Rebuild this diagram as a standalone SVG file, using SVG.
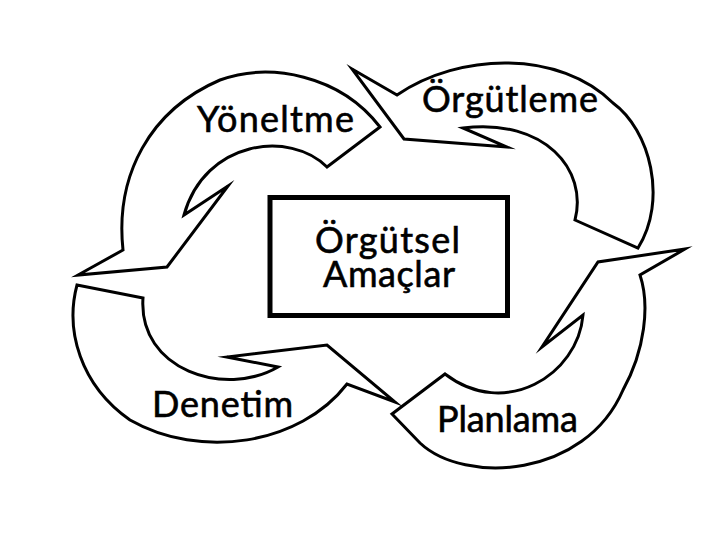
<svg xmlns="http://www.w3.org/2000/svg" width="720" height="540" viewBox="0 0 720 540">
<style>
.arrow{fill:#fff;stroke:#000;stroke-width:3;stroke-linejoin:miter;stroke-miterlimit:10}
.lbl{font-family:"Lato","Liberation Sans",sans-serif;font-size:36px;fill:#000;stroke:#000;stroke-width:0.6}
</style>
<rect width="720" height="540" fill="#fff"/>
<g id="connectors">
<path id="yoneltme-arrow" class="arrow" d="M380,127 L327,167 C290,130 205,140 184,215 L228,186 L167,267 L78,275 L123,250 C115,175 150,110 220,80 C270,62 340,75 380,127 Z"/>
<path id="orgutleme-arrow" class="arrow" d="M352,69 L397,95 C460,52 560,50 613,103 C650,130 668,200 638,248 L575,220 C588,170 545,118 463,128 L507,147 L404,139 Z"/>
<path id="planlama-arrow" class="arrow" d="M685,249 L598,262 L542,347 L583,315 C578,375 505,420 445,374 L392,414 L420,443 C465,485 585,478 623,390 C645,350 650,305 640,275 Z"/>
<path id="denetim-arrow" class="arrow" d="M77,285 L143,298 C138,370 225,398 278,367 L227,357 L327,345 L395,402 L347,384 C300,445 200,460 130,420 C80,385 65,330 77,285 Z"/>
</g>
<g id="yoneltme"><text class="lbl" x="197" y="132" textLength="157">Yöneltme</text></g>
<g id="orgutleme"><text class="lbl" x="422" y="112" textLength="176">Örgütleme</text></g>
<g id="denetim"><text class="lbl" x="152" y="417" textLength="141">Denetim</text></g>
<g id="planlama"><text class="lbl" x="437" y="432" textLength="141">Planlama</text></g>
<g id="orgutsel-amaclar">
<rect x="270" y="197.5" width="237.5" height="118" fill="#fff" stroke="#000" stroke-width="5"/>
<text class="lbl" x="315" y="253" textLength="145">Örgütsel</text>
<text class="lbl" x="323" y="287" textLength="132">Amaçlar</text>
</g>
</svg>
